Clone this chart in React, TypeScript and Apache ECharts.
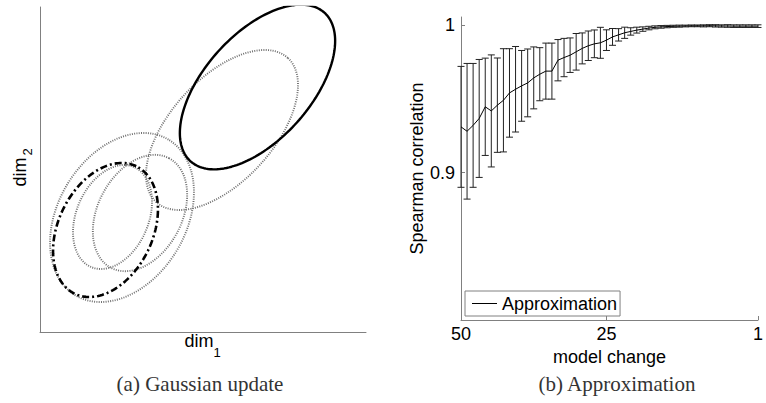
import React, { useEffect, useRef } from "react";
import * as echarts from "echarts";

// ---------- Panel (a): Gaussian update (contours of successive Gaussians) ----------
// centre x, centre y, semi-major, semi-minor, orientation (deg) in plot units
const gaussNames = ["g0", "g1", "g2", "g3", "g4", "g5"];
const gaussCx = [65.5, 72.5, 82, 100, 182, 217.5];
const gaussCy = [102, 115, 114.5, 119, 202, 245];
const gaussA = [70.8, 54.4, 90.7, 62, 97.6, 100];
const gaussB = [47.2, 36.1, 64, 42, 51.5, 53];
const gaussAngle = [64.3, 66.8, 59.2, 62, 47.6, 48];

// ---------- Panel (b): Approximation ----------
const modelChange = [
  50, 49, 48, 47, 46, 45, 44, 43, 42, 41, 40, 39, 38, 37, 36, 35, 34, 33, 32, 31,
  30, 29, 28, 27, 26, 25, 24, 23, 22, 21, 20, 19, 18, 17, 16, 15, 14, 13, 12, 11,
  10, 9, 8, 7, 6, 5, 4, 3, 2, 1,
];
const spearmanMean = [
  0.931, 0.928, 0.932, 0.9367, 0.9446, 0.9418, 0.9457, 0.949, 0.954, 0.9565,
  0.9588, 0.9608, 0.9642, 0.9667, 0.9688, 0.9688, 0.9762, 0.978, 0.9796, 0.9819,
  0.9842, 0.986, 0.9873, 0.988, 0.9898, 0.992, 0.9934, 0.9948, 0.9957, 0.9966,
  0.9973, 0.998, 0.9985, 0.9988, 0.999, 0.9992, 0.9993, 0.9994, 0.9995, 0.9995,
  0.9995, 0.9996, 0.9995, 0.9994, 0.9994, 0.9993, 0.9993, 0.9993, 0.9993, 0.9993,
];
const spearmanErr = [
  0.041, 0.046, 0.042, 0.04, 0.033, 0.038, 0.032, 0.035, 0.03, 0.029,
  0.024, 0.023, 0.021, 0.018, 0.019, 0.019, 0.014, 0.013, 0.0117, 0.0124,
  0.0105, 0.01, 0.0094, 0.0105, 0.007, 0.0057, 0.0042, 0.0038, 0.0025, 0.002,
  0.0015, 0.0012, 0.001, 0.0009, 0.0008, 0.0007, 0.0007, 0.0006, 0.0006, 0.0006,
  0.0007, 0.0007, 0.0008, 0.0008, 0.0009, 0.0009, 0.0009, 0.0009, 0.0009, 0.0009,
];
const xTickIndex = [0, 24, 49];
const xTickLabels = ["50", "25", "1"];
const yTickValues = [0.9, 1];

const SANS = "Liberation Sans, Arial, Helvetica, sans-serif";
const SERIF = "Liberation Serif, Times New Roman, serif";
const AXIS_GRAY = "#808080";

function contour(i: number): number[][] {
  const pts: number[][] = [];
  const th = (gaussAngle[i] * Math.PI) / 180;
  const c = Math.cos(th);
  const s = Math.sin(th);
  const n = 180;
  for (let k = 0; k <= n; k++) {
    const t = (2 * Math.PI * k) / n;
    const u = gaussA[i] * Math.cos(t);
    const v = gaussB[i] * Math.sin(t);
    pts.push([gaussCx[i] + u * c - v * s, gaussCy[i] + u * s + v * c]);
  }
  return pts;
}

const DOTTED = { color: "#707070", width: 1.9, type: [1, 1.3] };
const gaussStyles: any[] = [
  { color: "#000", width: 2.6, type: [7, 3, 2, 3] },
  DOTTED,
  DOTTED,
  DOTTED,
  DOTTED,
  { color: "#000", width: 2.4, type: "solid" },
];

export default function App() {
  const ref = useRef<HTMLDivElement>(null);
  useEffect(() => {
    if (!ref.current) return;
    const chart = echarts.init(ref.current, null, { renderer: "svg" });

    const ellipseSeries = gaussNames.map((name, i) => ({
      type: "line",
      name,
      xAxisIndex: 0,
      yAxisIndex: 0,
      data: contour(i),
      showSymbol: false,
      symbol: "none",
      smooth: false,
      lineStyle: gaussStyles[i],
      silent: true,
      z: i === 0 || i === 5 ? 3 : 2,
    }));

    const errData = spearmanMean.map((m, i) => [i, m - spearmanErr[i], m + spearmanErr[i]]);

    const option: any = {
      animation: false,
      backgroundColor: "#fff",
      grid: [
        { left: 40, top: 7, width: 326, height: 325 },
        { left: 461, top: 17, width: 304, height: 303 },
      ],
      xAxis: [
        {
          gridIndex: 0,
          type: "value",
          min: 0,
          max: 326,
          axisLine: { show: true, onZero: false, lineStyle: { color: AXIS_GRAY, width: 1 } },
          axisTick: { show: false },
          axisLabel: { show: false },
          splitLine: { show: false },
        },
        {
          gridIndex: 1,
          type: "category",
          boundaryGap: false,
          data: modelChange.map(String),
          name: "model change",
          nameLocation: "middle",
          nameGap: 14,
          nameTextStyle: { fontFamily: SANS, fontSize: 18, color: "#000", verticalAlign: "top" },
          axisLine: { show: true, onZero: false, lineStyle: { color: AXIS_GRAY, width: 1 } },
          axisTick: {
            show: true,
            inside: true,
            length: 4,
            interval: (idx: number) => xTickIndex.indexOf(idx) >= 0,
            lineStyle: { color: AXIS_GRAY },
          },
          axisLabel: {
            show: true,
            interval: (idx: number) => xTickIndex.indexOf(idx) >= 0,
            formatter: (_v: string, idx: number) => {
              const k = xTickIndex.indexOf(idx);
              return k >= 0 ? xTickLabels[k] : "";
            },
            margin: 5,
            fontFamily: SANS,
            fontSize: 18,
            color: "#000",
          },
          splitLine: { show: false },
        },
      ],
      yAxis: [
        {
          gridIndex: 0,
          type: "value",
          min: 0,
          max: 325,
          axisLine: { show: true, onZero: false, lineStyle: { color: AXIS_GRAY, width: 1 } },
          axisTick: { show: false },
          axisLabel: { show: false },
          splitLine: { show: false },
        },
        {
          gridIndex: 1,
          type: "value",
          min: 0.8,
          max: 1.0055,
          name: "Spearman correlation",
          nameLocation: "middle",
          nameGap: 33,
          nameTextStyle: { fontFamily: SANS, fontSize: 18, color: "#000" },
          axisLine: { show: true, onZero: false, lineStyle: { color: AXIS_GRAY, width: 1 } },
          axisTick: {
            show: true,
            inside: true,
            length: 4,
            customValues: yTickValues,
            lineStyle: { color: AXIS_GRAY },
          },
          axisLabel: {
            show: true,
            customValues: yTickValues,
            formatter: (v: number) => String(Math.round(v * 10) / 10),
            margin: 6,
            fontFamily: SANS,
            fontSize: 18,
            color: "#000",
          },
          splitLine: { show: false },
        },
      ],
      legend: {
        data: [{ name: "Approximation", icon: "rect" }],
        left: 465,
        top: 291,
        orient: "horizontal",
        padding: [3, 3, 3, 7],
        itemWidth: 25,
        itemHeight: 1,
        itemStyle: { color: "#000" },
        backgroundColor: "#fff",
        borderColor: AXIS_GRAY,
        borderWidth: 1,
        borderRadius: 0,
        textStyle: { fontFamily: SANS, fontSize: 18, color: "#000", lineHeight: 19 },
      },
      series: [
        ...ellipseSeries,
        {
          type: "custom",
          name: "errorbars",
          xAxisIndex: 1,
          yAxisIndex: 1,
          data: errData,
          encode: { x: 0, y: [1, 2] },
          silent: true,
          clip: false,
          renderItem: (_p: any, api: any) => {
            const x = api.value(0);
            const lo = api.coord([x, api.value(1)]);
            const hi = api.coord([x, api.value(2)]);
            const w = 3.5;
            const st = { stroke: "#222", lineWidth: 1 };
            return {
              type: "group",
              children: [
                { type: "line", shape: { x1: lo[0], y1: lo[1], x2: hi[0], y2: hi[1] }, style: st },
                { type: "line", shape: { x1: lo[0] - w, y1: lo[1], x2: lo[0] + w, y2: lo[1] }, style: st },
                { type: "line", shape: { x1: hi[0] - w, y1: hi[1], x2: hi[0] + w, y2: hi[1] }, style: st },
              ],
            };
          },
          z: 2,
        },
        {
          type: "line",
          name: "Approximation",
          xAxisIndex: 1,
          yAxisIndex: 1,
          data: spearmanMean,
          showSymbol: false,
          symbol: "none",
          lineStyle: { color: "#000", width: 1 },
          itemStyle: { color: "#000" },
          z: 3,
        },
      ],
      graphic: [
        {
          type: "text",
          x: 20,
          y: 172,
          rotation: Math.PI / 2,
          style: { text: "dim", fontFamily: SANS, fontSize: 18, fill: "#000", align: "center", verticalAlign: "middle" },
        },
        {
          type: "text",
          x: 27,
          y: 152,
          rotation: Math.PI / 2,
          style: { text: "2", fontFamily: SANS, fontSize: 13, fill: "#000", align: "center", verticalAlign: "middle" },
        },
        {
          type: "text",
          x: 199,
          y: 341,
          style: { text: "dim", fontFamily: SANS, fontSize: 18, fill: "#000", align: "center", verticalAlign: "middle" },
        },
        {
          type: "text",
          x: 217,
          y: 352,
          style: { text: "1", fontFamily: SANS, fontSize: 13, fill: "#000", align: "center", verticalAlign: "middle" },
        },
        {
          type: "text",
          x: 200,
          y: 384,
          style: { text: "(a) Gaussian update", fontFamily: SERIF, fontSize: 21, fill: "#333", align: "center", verticalAlign: "middle" },
        },
        {
          type: "text",
          x: 617,
          y: 384,
          style: { text: "(b) Approximation", fontFamily: SERIF, fontSize: 21, fill: "#333", align: "center", verticalAlign: "middle" },
        },
      ],
    };
    chart.setOption(option);
    return () => chart.dispose();
  }, []);
  return <div ref={ref} style={{ width: 766, height: 403, position: "absolute", left: 0, top: 0 }} />;
}
